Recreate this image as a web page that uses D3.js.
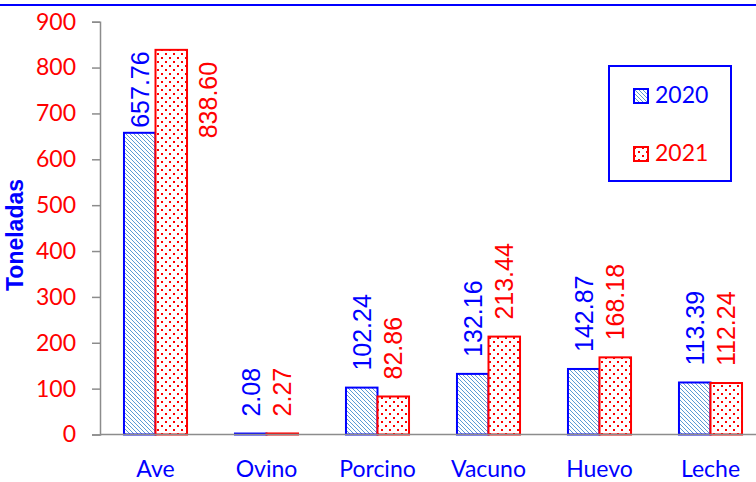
<!DOCTYPE html>
<html>
<head>
<meta charset="utf-8">
<script src="https://cdn.jsdelivr.net/npm/d3@7"></script>
<style>
  body { margin: 0; background: #fff; }
  svg { display: block; }
</style>
</head>
<body>
<div id="chart-area"></div>
<script>
// data
const categories = ['Ave', 'Ovino', 'Porcino', 'Vacuno', 'Huevo', 'Leche'];
const years = ['2020', '2021'];
const values2020 = [657.76, 2.08, 102.24, 132.16, 142.87, 113.39];
const values2021 = [838.60, 2.27, 82.86, 213.44, 168.18, 112.24];
const yTicks = [0, 100, 200, 300, 400, 500, 600, 700, 800, 900];

const W = 756, H = 482;
const plot = { left: 100, right: 766, top: 21.7, bottom: 434.5 };

const seriesColor = { '2020': '#0000ff', '2021': '#ff0000' };
const seriesFill = { '2020': 'url(#stripes)', '2021': 'url(#dots)' };
const valuesByYear = { '2020': values2020, '2021': values2021 };

const svg = d3.select('#chart-area')
  .append('svg')
  .attr('width', W)
  .attr('height', H);

// fill patterns
const defs = svg.append('defs');
const stripes = defs.append('pattern')
  .attr('id', 'stripes')
  .attr('patternUnits', 'userSpaceOnUse')
  .attr('width', 4).attr('height', 4);
stripes.append('rect').attr('width', 4).attr('height', 4).attr('fill', '#fff');
[0, 1, 2, 3].forEach((i) => {
  stripes.append('rect')
    .attr('x', i).attr('y', i)
    .attr('width', 1).attr('height', 1)
    .attr('fill', '#5b9bd5');
});

const dots = defs.append('pattern')
  .attr('id', 'dots')
  .attr('patternUnits', 'userSpaceOnUse')
  .attr('width', 8).attr('height', 8);
dots.append('rect').attr('width', 8).attr('height', 8).attr('fill', '#fff');
[[1, 1], [5, 5]].forEach((p) => {
  dots.append('rect')
    .attr('x', p[0]).attr('y', p[1])
    .attr('width', 2).attr('height', 2)
    .attr('fill', '#ff0000');
});

// top border line
svg.append('line')
  .attr('x1', 0).attr('x2', W)
  .attr('y1', 5).attr('y2', 5)
  .attr('stroke', '#0000ff')
  .attr('stroke-width', 2);

const x0 = d3.scaleBand()
  .domain(categories)
  .range([plot.left, plot.right])
  .paddingInner(0.432)
  .paddingOuter(0.216);

const x1 = d3.scaleBand()
  .domain(years)
  .range([0, x0.bandwidth()]);

const y = d3.scaleLinear()
  .domain([0, 900])
  .range([plot.bottom, plot.top]);

// y axis
const yAxis = d3.axisLeft(y)
  .tickValues(yTicks)
  .tickSize(8)
  .tickPadding(16)
  .tickFormat(d3.format('d'));

const yG = svg.append('g')
  .attr('transform', 'translate(' + plot.left + ',0)')
  .call(yAxis);
yG.select('.domain').attr('stroke', '#8c8c8c').attr('stroke-width', 1.5);
yG.selectAll('.tick line').attr('stroke', '#8c8c8c').attr('stroke-width', 1.5);
yG.selectAll('.tick text')
  .attr('fill', '#ff0000')
  .attr('font-family', 'Lato, sans-serif')
  .attr('font-size', '23px');

// Y label
svg.append('text')
  .attr('transform', 'translate(23, 235) rotate(-90)')
  .attr('text-anchor', 'middle')
  .attr('font-family', '"Liberation Sans", Arial, sans-serif')
  .attr('font-weight', 'bold')
  .attr('font-size', '23px')
  .attr('fill', '#0000ff')
  .text('Toneladas');

// bars
const rows = [];
categories.forEach((cat, i) => {
  years.forEach((yr) => {
    rows.push({ cat: cat, year: yr, value: valuesByYear[yr][i] });
  });
});

svg.append('g').selectAll('rect')
  .data(rows)
  .enter()
  .append('rect')
  .attr('x', (d) => x0(d.cat) + x1(d.year))
  .attr('y', (d) => y(d.value))
  .attr('width', x1.bandwidth())
  .attr('height', (d) => y(0) - y(d.value))
  .attr('fill', (d) => seriesFill[d.year])
  .attr('stroke', (d) => seriesColor[d.year])
  .attr('stroke-width', 2);

// x baseline
svg.append('line')
  .attr('x1', plot.left).attr('x2', W)
  .attr('y1', y(0)).attr('y2', y(0))
  .attr('stroke', '#8c8c8c')
  .attr('stroke-width', 1.5);

// category labels
svg.append('g').selectAll('text')
  .data(categories)
  .enter()
  .append('text')
  .attr('x', (d) => x0(d) + x0.bandwidth() / 2)
  .attr('y', 477)
  .attr('text-anchor', 'middle')
  .attr('font-family', 'Lato, sans-serif')
  .attr('font-size', '23px')
  .attr('fill', '#0000ff')
  .text((d) => d);

// value labels (rotated); a label that would not fit above its bar goes beside it
const labelSize = 25;
svg.append('g').selectAll('text')
  .data(rows)
  .enter()
  .append('text')
  .attr('font-family', '"Liberation Sans", Arial, sans-serif')
  .attr('font-size', labelSize + 'px')
  .attr('fill', (d) => seriesColor[d.year])
  .attr('dy', '0.36em')
  .text((d) => d.value.toFixed(2))
  .each(function(d) {
    const t = d3.select(this);
    const len = this.getComputedTextLength();
    const cx = x0(d.cat) + x1(d.year) + x1.bandwidth() / 2;
    const top = y(d.value);
    const gap = d.value > 600 ? 5 : 17;
    if (top - gap - len < plot.top) {
      t.attr('text-anchor', 'end')
        .attr('transform', 'translate(' + (cx + x1.bandwidth() + 5) + ',' + (top + 12) + ') rotate(-90)');
    } else {
      t.attr('text-anchor', 'start')
        .attr('transform', 'translate(' + cx + ',' + (top - gap) + ') rotate(-90)');
    }
  });

// legend
const legend = svg.append('g');
legend.append('rect')
  .attr('x', 609).attr('y', 66)
  .attr('width', 122).attr('height', 115)
  .attr('fill', '#fff')
  .attr('stroke', '#0000ff')
  .attr('stroke-width', 2);

const legendItems = legend.selectAll('g.item')
  .data(years)
  .enter()
  .append('g')
  .attr('class', 'item')
  .attr('transform', (d, i) => 'translate(633,' + (88 + i * 58) + ')');

legendItems.append('rect')
  .attr('x', 1).attr('y', 1)
  .attr('width', 14).attr('height', 14)
  .attr('fill', (d) => seriesFill[d])
  .attr('stroke', (d) => seriesColor[d])
  .attr('stroke-width', 2);

legendItems.append('text')
  .attr('x', 22)
  .attr('y', 15)
  .attr('font-family', 'Lato, sans-serif')
  .attr('font-size', '23px')
  .attr('fill', (d) => seriesColor[d])
  .text((d) => d);
</script>
</body>
</html>
